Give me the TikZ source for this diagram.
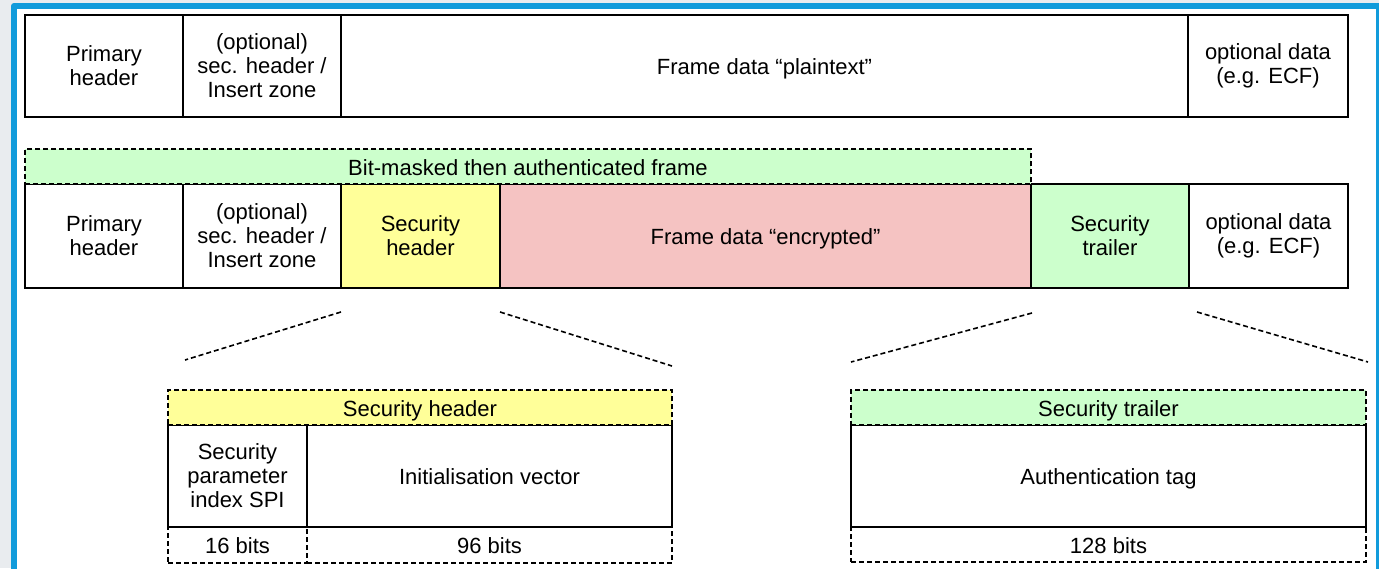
\documentclass[tikz,border=0pt]{standalone}
\usepackage{fontspec}
\setmainfont{Liberation Sans}
\usetikzlibrary{calc}
\definecolor{pagegray}{HTML}{E9ECEF}
\definecolor{selblue}{HTML}{119BDB}
\definecolor{hdryellow}{HTML}{FFFF99}
\definecolor{encpink}{HTML}{F5C3C2}
\definecolor{trlgreen}{HTML}{CCFFCC}
\begin{document}
\begin{tikzpicture}[x=1pt,y=-1pt,
  cell/.style={draw=black, line width=1.6pt, inner sep=0pt, outer sep=0pt,
    anchor=north west, align=center, font=\fontsize{22}{24}\selectfont},
  dcell/.style={cell, line width=1.5pt, dash pattern=on 5pt off 3pt},
  oneline/.style={text depth=0pt, text height=17pt},
  zoomline/.style={draw=black, line width=1.6pt, dash pattern=on 5pt off 3pt}]
\useasboundingbox (0,0) rectangle (1379,568);

% canvas and selection outline
\fill[pagegray] (0,0) rectangle (1379,568);
\fill[selblue, rounded corners=3pt] (11,3) rectangle (1400,600);
\fill[white] (17,9) rectangle (1375.5,600);

% plain frame
\node[cell, minimum width=158pt, minimum height=102pt] (a1) at (25,15) {Primary\\header};
\node[cell, minimum width=158pt, minimum height=102pt] (a2) at (183,15) {(optional)\\sec. header /\\Insert zone};
\node[cell, oneline, minimum width=847pt, minimum height=102pt] (a3) at (341,15) {Frame data “plaintext”};
\node[cell, minimum width=160pt, minimum height=102pt] (a4) at (1188,15) {optional data\\(e.g. ECF)};

% secured frame
\node[cell, minimum width=158pt, minimum height=104pt] (b1) at (25,184) {Primary\\header};
\node[cell, minimum width=158pt, minimum height=104pt] (b2) at (183,184) {(optional)\\sec. header /\\Insert zone};
\node[cell, fill=hdryellow, minimum width=159pt, minimum height=104pt] (b3) at (341,184) {Security\\header};
\node[cell, oneline, fill=encpink, minimum width=531pt, minimum height=104pt] (b4) at (500,184) {Frame data “encrypted”};
\node[cell, fill=trlgreen, minimum width=158pt, minimum height=104pt] (b5) at (1031,184) {Security\\trailer};
\node[cell, minimum width=159pt, minimum height=104pt] (b6) at (1189,184) {optional data\\(e.g. ECF)};
\node[dcell, oneline, fill=trlgreen, minimum width=1006pt, minimum height=35pt] (hb) at (25,149) {Bit-masked then authenticated frame};

% security header layout
\node[dcell, oneline, minimum width=139pt, minimum height=36pt] (s16) at (168,527) {16 bits};
\node[dcell, oneline, minimum width=365pt, minimum height=36pt] (s96) at (307,527) {96 bits};
\node[cell, minimum width=139pt, minimum height=102pt] (spi) at (168,425) {Security\\parameter\\index SPI};
\node[cell, oneline, minimum width=365pt, minimum height=102pt] (iv) at (307,425) {Initialisation vector};
\node[dcell, oneline, fill=hdryellow, minimum width=504pt, minimum height=35pt] (shh) at (168,390) {Security header};

% security trailer layout
\node[dcell, oneline, minimum width=515pt, minimum height=35pt] (t128) at (851,527) {128 bits};
\node[cell, oneline, minimum width=515pt, minimum height=102pt] (tag) at (851,425) {Authentication tag};
\node[dcell, oneline, fill=trlgreen, minimum width=515pt, minimum height=35pt] (sth) at (851,390) {Security trailer};

% expansion guides
\coordinate (g1a) at ($(b3.south west)+(0,24)$);
\coordinate (g1b) at ($(shh.north west)+(17,-30)$);
\coordinate (g2a) at ($(b3.south east)+(0,24)$);
\coordinate (g2b) at ($(shh.north east)+(0,-24)$);
\coordinate (g3a) at ($(b5.south west)+(1,25)$);
\coordinate (g3b) at ($(sth.north west)+(0,-28)$);
\coordinate (g4a) at ($(b5.south east)+(8,24)$);
\coordinate (g4b) at ($(sth.north east)+(2,-28)$);
\draw[zoomline] (g1a) -- (g1b);
\draw[zoomline] (g2a) -- (g2b);
\draw[zoomline] (g3a) -- (g3b);
\draw[zoomline] (g4a) -- (g4b);
\end{tikzpicture}
\end{document}
